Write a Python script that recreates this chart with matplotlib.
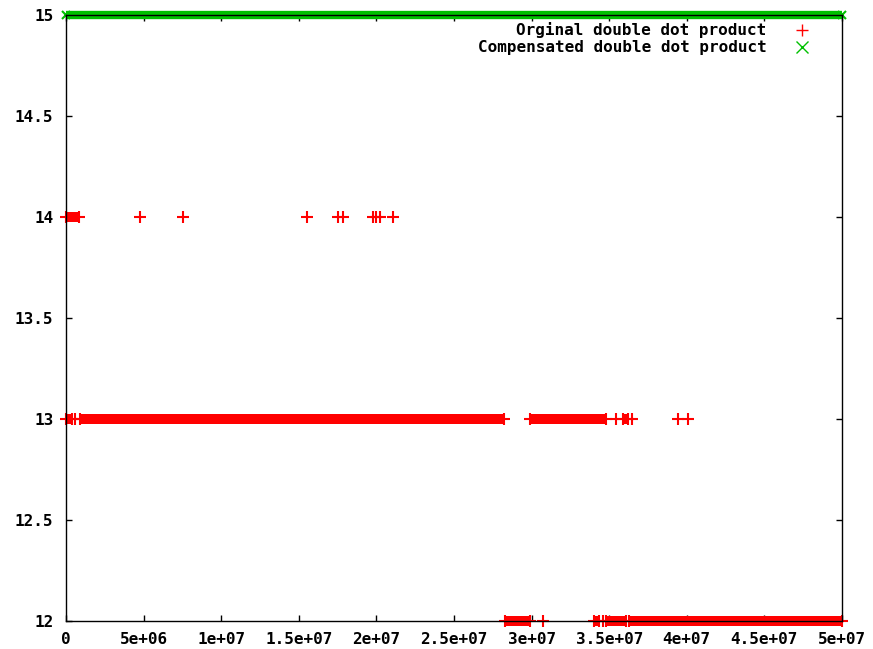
import numpy as np
import matplotlib
matplotlib.use("Agg")
import matplotlib.pyplot as plt
from matplotlib.ticker import FuncFormatter, MultipleLocator

# iteration index where each result value shows up (dense stretches kept as start/end)
orig_runs = {
    14: [(0.0, 0.84e6)],
    13: [(0.0, 0.36e6), (0.93e6, 28.25e6), (29.9e6, 34.8e6), (35.87e6, 36.23e6)],
    12: [(28.29e6, 29.9e6), (34.04e6, 34.36e6), (34.8e6, 36.06e6), (36.28e6, 50.0e6)],
}
orig_points = {
    14: [4.77e6, 7.56e6, 15.5e6, 17.55e6, 17.87e6, 19.75e6, 19.95e6, 20.2e6, 21.1e6],
    13: [0.58e6, 35.45e6, 36.45e6, 39.45e6, 40.1e6],
    12: [30.75e6, 34.62e6],
}
comp_runs = {15: [(0.0, 50.0e6)]}

RED = "#ff0000"
GREEN = "#00c000"
FONT = {"family": "DejaVu Sans Mono", "weight": "bold", "size": 11.5}

fig = plt.figure(figsize=(8.73, 6.49), dpi=100)
ax = fig.add_axes([66 / 873, 28 / 649, 776 / 873, 606 / 649])


def draw(runs, points, marker, color, band, ms):
    for v, segs in runs.items():
        for a, b in segs:
            ax.plot([a, b], [v, v], color=color, lw=band, solid_capstyle="butt",
                    clip_on=False, zorder=2)
            ax.plot([a, b], [v, v], ls="none", marker=marker, ms=ms, mew=1.5,
                    color=color, clip_on=False, zorder=2)
    for v, xs in points.items():
        ax.plot(xs, [v] * len(xs), ls="none", marker=marker, ms=ms, mew=1.5,
                color=color, clip_on=False, zorder=2)


draw(orig_runs, orig_points, "+", RED, 7.2, 8)
draw(comp_runs, {}, "x", GREEN, 6.0, 6)

ax.set_xlim(0, 5e7)
ax.set_ylim(12, 15)
ax.xaxis.set_major_locator(MultipleLocator(5e6))
ax.yaxis.set_major_locator(MultipleLocator(0.5))
ax.xaxis.set_major_formatter(FuncFormatter(lambda v, p: "%g" % v))
ax.yaxis.set_major_formatter(FuncFormatter(lambda v, p: "%g" % v))
ax.tick_params(direction="in", length=4, width=1, top=True, right=True,
               colors="black")
ax.tick_params(axis="x", pad=8)
ax.tick_params(axis="y", pad=9)
for lab in ax.get_xticklabels() + ax.get_yticklabels():
    lab.set_fontproperties(FONT)
for s in ax.spines.values():
    s.set_linewidth(1.0)
    s.set_zorder(3)

# key, top right
labels = ["Orginal double dot product", "Compensated double dot product"]
keys = [("+", RED), ("x", GREEN)]
for i, (lab, (m, c)) in enumerate(zip(labels, keys)):
    y = 0.975 - 0.028 * i
    ax.text(0.903, y, lab, ha="right", va="center", transform=ax.transAxes,
            fontdict=FONT)
    ax.plot([0.948], [y], ls="none", marker=m, ms=8, mew=1.0, color=c,
            transform=ax.transAxes, clip_on=False)

fig.savefig("out.png", dpi=100)
